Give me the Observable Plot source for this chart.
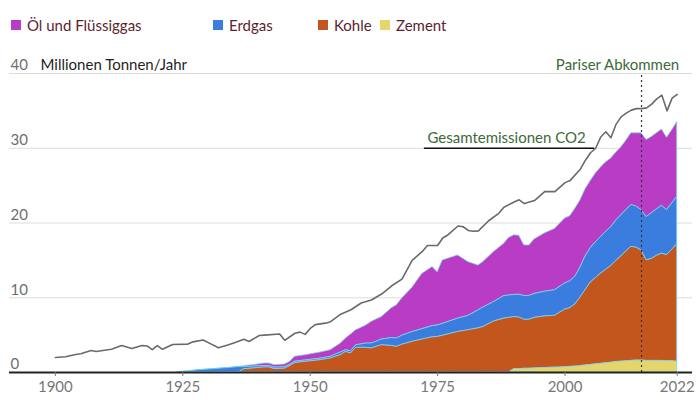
<!DOCTYPE html>
<html><head><meta charset="utf-8">
<script src="https://cdn.jsdelivr.net/npm/d3@7"></script>
<script src="https://cdn.jsdelivr.net/npm/@observablehq/plot@0.6"></script>
<style>
body{margin:0;background:#fff;font-family:Lato,sans-serif;}
#legend{position:relative;height:45px;width:700px;}
.item{position:absolute;top:16px;font-size:15px;line-height:18px;color:#5c1f2e;white-space:nowrap;display:flex;align-items:center;}
.sw{width:10px;height:10px;margin-right:6px;display:inline-block;}
</style></head><body>
<div id="legend"></div><div id="chart"></div>
<script>
// ---- data ----
const seriesNames = ["Öl und Flüssiggas","Erdgas","Kohle","Zement"];
const seriesColors = ["#b93cc4","#3b7ddf","#c3561c","#e5d66b"];
const stackOrder = ["Zement","Kohle","Erdgas","Öl und Flüssiggas"];

const yTicks = [0,10,20,30,40];
const xTicks = [1900,1925,1950,1975,2000,2022];
const unitLabel = "Millionen Tonnen/Jahr";
const totalLabel = "Gesamtemissionen CO2";
const parisLabel = "Pariser Abkommen";
const parisYear = 2015;

const totalYears = [1900,1902,1904,1905,1907,1908,1910,1911,1913,1915,1917,1918,1919,1920,1921,1923,1926,1927,1929,1930,1932,1934,1935,1937,1938,1940,1941,1944,1945,1947,1948,1949,1950,1951,1953,1954,1956,1958,1960,1962,1964,1966,1968,1970,1972,1973,1975,1976,1977,1979,1980,1981,1982,1983,1985,1987,1988,1990,1991,1992,1994,1996,1998,2000,2001,2003,2004,2005,2006,2007,2008,2009,2010,2011,2012,2013,2014,2015,2016,2017,2018,2019,2020,2021,2022];
const totalValues = [2.0,2.1,2.4,2.5,2.95,2.8,3.0,3.1,3.6,3.2,3.6,3.55,3.05,3.6,3.1,3.75,3.8,4.1,4.35,4.0,3.3,3.7,3.95,4.45,4.15,4.95,5.0,5.15,4.3,5.25,5.4,5.1,5.9,6.4,6.6,6.8,7.8,8.4,9.3,9.7,10.5,11.6,12.5,15.0,16.2,17.0,17.0,18.0,18.4,19.6,19.5,19.0,18.9,18.95,20.3,21.3,22.1,22.8,23.1,22.6,23.0,24.2,24.2,25.4,25.7,27.2,28.4,29.4,30.0,31.5,32.2,31.4,33.2,34.2,34.7,35.1,35.3,35.3,35.4,35.9,36.6,37.1,35.0,36.7,37.2];

const stackYears = [1924,1926,1928,1930,1932,1934,1936,1937,1939,1941,1942,1943,1945,1946,1947,1949,1952,1954,1956,1957,1958,1959,1961,1962,1963,1964,1966,1967,1968,1970,1972,1974,1975,1976,1979,1981,1983,1984,1986,1988,1989,1990,1991,1992,1993,1994,1996,1998,2000,2001,2002,2003,2004,2005,2006,2007,2008,2009,2010,2011,2012,2013,2014,2015,2016,2017,2018,2019,2020,2021,2022];
const oil = [0,0,0,0,0,0,0, 0.13,0.20,0.35,0.35,0.32,0.37,0.42,0.65,0.70, 0.82,0.88,1.20,1.56,2.25,2.01,2.43,2.89,3.00,3.00, 4.00,4.46,4.98,5.90,7.40,7.90,7.10,8.50,8.46,7.21, 6.00,6.10,6.70,7.00,7.70,7.98,7.90,6.76,6.76,7.30, 7.80,8.20,8.70,8.70,9.10,9.00,9.00,9.00,9.20,9.30, 9.30,9.20,9.10,9.10,9.30,9.60,9.80,10.30,10.30,10.20,10.20,10.20,9.70,9.80,10.00];
const gas = [0.02,0.15,0.30,0.40,0.50,0.60,0.72, 0.30,0.25,0.18,0.18,0.20,0.20,0.16,0.20,0.18, 0.21,0.23,0.36,0.23,0.30,0.34,0.57,0.67,0.68,0.76, 1.05,1.12,1.20,1.31,1.40,1.50,1.55,1.60,1.78,1.91, 2.40,2.60,2.60,3.00,3.00,2.97,3.05,3.19,3.19,3.20, 3.30,3.42,3.50,3.60,3.70,4.00,4.50,4.60,4.80,4.90, 5.10,5.20,5.40,5.50,5.50,5.60,5.50,5.40,5.80,6.10,6.20,6.40,6.00,6.20,6.35];
const coal = [0,0,0,0,0,0,0, 0.42,0.55,0.67,0.67,0.45,0.50,0.84,1.25,1.42, 1.64,1.87,2.31,2.75,2.55,3.30,3.30,3.20,3.42,3.64, 3.55,3.42,3.70,4.09,4.40,4.70,4.75,4.90,5.42,5.65, 5.90,6.10,6.80,7.20,7.30,6.95,6.90,6.55,6.55,6.75, 6.90,6.93,7.70,7.85,8.30,9.15,10.05,11.00,11.50,12.05, 12.45,12.90,13.50,14.05,14.70,15.25,15.10,14.70,13.45,13.65,14.05,14.35,14.20,14.90,15.70];
const cement = [0,0,0,0,0,0,0, 0,0,0,0,0,0,0,0,0, 0,0,0,0,0,0,0,0,0,0, 0,0,0,0,0,0,0,0,0,0, 0,0,0,0,0,0.45,0.45,0.50,0.50,0.55, 0.60,0.65,0.70,0.75,0.80,0.85,0.95,1.00,1.10,1.15, 1.25,1.30,1.40,1.45,1.50,1.55,1.60,1.60,1.55,1.55,1.55,1.55,1.50,1.50,1.45];

// annotation anchors (data coordinates)
const totalLabelX = 1973.0, totalRuleX1 = 1972.4, totalRuleX2 = 2005.8, totalRuleY = 30;
const parisLabelX = 2022.4;

// ---- build tables ----
const seriesValues = {"Öl und Flüssiggas": oil, "Erdgas": gas, "Kohle": coal, "Zement": cement};
const stackData = [];
for (const s of seriesNames) stackYears.forEach((yr,i) => stackData.push({year: yr, series: s, value: seriesValues[s][i]}));
const totalData = totalYears.map((yr,i) => ({year: yr, value: totalValues[i]}));

// ---- legend ----
const legendX = [11, 213, 318, 380];
const legend = document.getElementById("legend");
seriesNames.forEach((s,i) => {
  const it = document.createElement("div");
  it.className = "item"; it.style.left = legendX[i] + "px";
  it.innerHTML = `<span class="sw" style="background:${seriesColors[i]}"></span>${s}`;
  legend.appendChild(it);
});

// ---- chart ----
const chart = Plot.plot({
  width: 700, height: 358,
  marginLeft: 9, marginRight: 8, marginTop: 28, marginBottom: 31,
  x: {domain: [1891, 2025]},
  y: {domain: [0, 40], axis: null},
  color: {domain: seriesNames, range: seriesColors},
  style: {fontFamily: "Lato, sans-serif", fontSize: "15px", background: "#fff", overflow: "visible"},
  marks: [
    Plot.ruleY(yTicks.filter(d => d > 0), {stroke: "#dcdcdc", strokeWidth: 1}),
    Plot.text(yTicks, {y: d => d, frameAnchor: "left", dx: 1, dy: -8, text: d => String(d), textAnchor: "start", fill: "#6e6e6e", fontSize: 15}),
    Plot.text([yTicks[yTicks.length - 1]], {y: d => d, frameAnchor: "left", dx: 31, dy: -8, text: () => unitLabel, textAnchor: "start", fill: "#1f1f1f", fontSize: 15}),
    Plot.areaY(stackData, Plot.stackY({x: "year", y: "value", z: "series", fill: "series", order: stackOrder, stroke: "#7fd4ef", strokeWidth: 0.8})),
    Plot.line(totalData, {x: "year", y: "value", stroke: "#6a6a6a", strokeWidth: 1.6}),
    Plot.ruleX([parisYear], {y1: 0, y2: 40, stroke: "#333", strokeDasharray: "2,3", strokeWidth: 1.2}),
    Plot.text([parisLabel], {x: parisLabelX, y: 40, dy: -8, text: d => d, textAnchor: "end", fill: "#3d6a38", fontSize: 15}),
    Plot.ruleY([totalRuleY], {x1: totalRuleX1, x2: totalRuleX2, stroke: "#111", strokeWidth: 1.6}),
    Plot.text([totalLabel], {x: totalLabelX, y: totalRuleY, dy: -10, text: d => d, textAnchor: "start", fill: "#3d6a38", fontSize: 15}),
    Plot.ruleY([0], {stroke: "#222", strokeWidth: 2}),
    Plot.axisX(xTicks, {tickSize: 4, tickPadding: 5, tickFormat: d => String(d), color: "#777", fontSize: 15, label: null})
  ]
});
document.getElementById("chart").appendChild(chart);
</script>
</body></html>
